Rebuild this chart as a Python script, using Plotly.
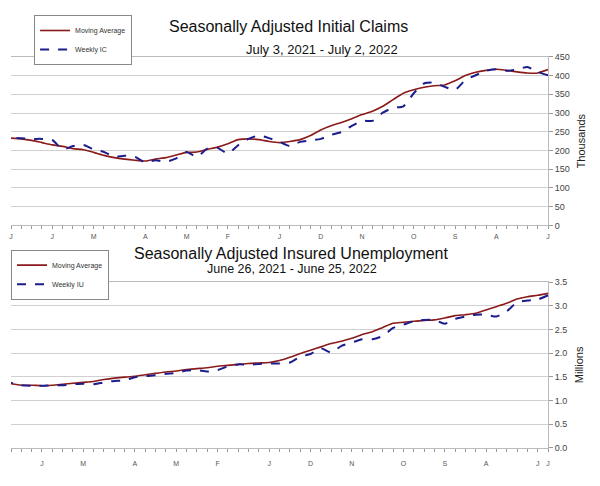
import plotly.graph_objects as go

# Week index 0 = first week of the period (drawn at the right edge, axis reversed)
weeks = list(range(53))

# Top chart: Seasonally Adjusted Initial Claims (thousands), July 3 2021 - July 2 2022
ic_moving_avg = [416, 407, 407, 410, 414, 417, 414, 409, 400, 386, 375, 373, 369, 362, 353,
                 336, 318, 305, 296, 285, 275, 266, 255, 240, 229, 224, 221, 224, 229, 231,
                 229, 218, 209, 203, 196, 195, 188, 181, 177, 172, 174, 177, 181, 187, 195,
                 202, 205, 211, 215, 221, 227, 231, 233]
ic_weekly = [401, 410, 423, 416, 413, 417, 413, 401, 388, 362, 370, 381, 379, 353, 318,
             314, 301, 279, 279, 266, 249, 242, 231, 227, 223, 212, 223, 233, 240, 231,
             214, 192, 207, 205, 183, 196, 179, 170, 174, 168, 183, 186, 183, 196, 203,
             215, 212, 203, 228, 231, 231, 233, 234]
ic_tick_idx = [0, 5, 9, 13, 18, 22, 26, 31, 35, 39, 44, 48, 52]
ic_tick_txt = ["J", "A", "S", "O", "N", "D", "J", "F", "M", "A", "M", "J", "J"]

# Bottom chart: Seasonally Adjusted Insured Unemployment (millions), June 26 2021 - June 25 2022
iu_moving_avg = [3.26, 3.22, 3.19, 3.14, 3.05, 2.98, 2.91, 2.84, 2.81, 2.79, 2.74, 2.70, 2.69,
                 2.67, 2.65, 2.63, 2.54, 2.45, 2.39, 2.31, 2.25, 2.20, 2.13, 2.06, 1.99, 1.91,
                 1.84, 1.80, 1.79, 1.78, 1.76, 1.74, 1.72, 1.69, 1.67, 1.65, 1.62, 1.60, 1.57,
                 1.54, 1.51, 1.49, 1.47, 1.44, 1.40, 1.38, 1.36, 1.34, 1.32, 1.31, 1.32, 1.32, 1.35]
iu_weekly = [3.22, 3.13, 3.11, 3.07, 2.88, 2.77, 2.81, 2.81, 2.77, 2.72, 2.62, 2.70, 2.70,
             2.67, 2.60, 2.53, 2.36, 2.29, 2.29, 2.22, 2.15, 2.01, 2.10, 1.98, 1.92, 1.80,
             1.78, 1.78, 1.77, 1.75, 1.76, 1.72, 1.64, 1.61, 1.64, 1.63, 1.58, 1.56, 1.53,
             1.51, 1.49, 1.42, 1.41, 1.38, 1.34, 1.35, 1.34, 1.32, 1.32, 1.31, 1.31, 1.32, 1.37]
iu_tick_idx = [0, 1, 6, 10, 14, 19, 23, 27, 32, 36, 40, 45, 49]
iu_tick_txt = ["J", "J", "A", "S", "O", "N", "D", "J", "F", "M", "A", "M", "J"]

MA_COLOR = "#8B1A1A"
WK_COLOR = "#1C1C8C"
GRID = "#D0D0D0"
FONT = "Liberation Sans, Arial, sans-serif"

fig = go.Figure()
fig.add_trace(go.Scatter(x=weeks, y=ic_moving_avg, mode="lines", name="Moving Average",
                         line=dict(color=MA_COLOR, width=1.6, shape="spline", smoothing=0.6),
                         xaxis="x", yaxis="y", legend="legend"))
fig.add_trace(go.Scatter(x=weeks, y=ic_weekly, mode="lines", name="Weekly IC",
                         line=dict(color=WK_COLOR, width=2, dash="dash", shape="spline", smoothing=0.6),
                         xaxis="x", yaxis="y", legend="legend"))
fig.add_trace(go.Scatter(x=weeks, y=iu_moving_avg, mode="lines", name="Moving Average",
                         line=dict(color=MA_COLOR, width=1.6, shape="spline", smoothing=0.6),
                         xaxis="x2", yaxis="y2", legend="legend2"))
fig.add_trace(go.Scatter(x=weeks, y=iu_weekly, mode="lines", name="Weekly IU",
                         line=dict(color=WK_COLOR, width=2, dash="dash", shape="spline", smoothing=0.6),
                         xaxis="x2", yaxis="y2", legend="legend2"))

def xaxis_cfg(idx, txt, anchor, standoff):
    labels = [txt[idx.index(w)] if w in idx else "" for w in weeks]
    return dict(range=[52, 0], tickvals=list(weeks), ticktext=labels, ticks="outside", ticklen=3,
                tickcolor="#999999", showgrid=False, zeroline=False, showline=True,
                linecolor="#BBBBBB", mirror=True, anchor=anchor, ticklabelstandoff=standoff,
                tickfont=dict(size=7, color="#555555", family=FONT))

def yaxis_cfg(rng, dtick, fmt, title, domain, anchor):
    return dict(range=rng, dtick=dtick, tickformat=fmt, side="right", domain=domain,
                showgrid=True, gridcolor=GRID, zeroline=False, showline=True,
                linecolor="#BBBBBB", ticks="outside", ticklen=4, tickcolor="#999999",
                anchor=anchor, tickfont=dict(size=9, color="#444444", family=FONT),
                title=dict(text=title, font=dict(size=11, color="#222222", family=FONT), standoff=8))

fig.update_layout(
    width=600, height=486,
    margin=dict(l=11, r=52, t=0, b=0),
    paper_bgcolor="white", plot_bgcolor="white",
    showlegend=True,
    xaxis=xaxis_cfg(ic_tick_idx, ic_tick_txt, "y", 1),
    yaxis=yaxis_cfg([0, 450], 50, "d", "Thousands", [0.537, 0.891], "x"),
    xaxis2=xaxis_cfg(iu_tick_idx, iu_tick_txt, "y2", 6),
    yaxis2=yaxis_cfg([0, 3.5], 0.5, ".1f", "Millions", [0.070, 0.418], "x2"),
    legend=dict(x=0.043, y=0.979, xanchor="left", yanchor="top", bordercolor="#888888",
                borderwidth=1, bgcolor="white", tracegroupgap=6,
                font=dict(size=7, color="#333333", family=FONT)),
    legend2=dict(x=0.0, y=0.486, xanchor="left", yanchor="top", bordercolor="#888888",
                 borderwidth=1, bgcolor="white",
                 font=dict(size=7, color="#333333", family=FONT)),
)

# titles placed at pixel positions, converted to paper coordinates
titles = [
    ("Seasonally Adjusted Initial Claims", 288, 22, 16),
    ("July 3, 2021 - July 2, 2022", 322, 45, 13),
    ("Seasonally Adjusted Insured Unemployment", 291, 254, 16),
    ("June 26, 2021 - June 25, 2022", 292, 270, 12.5),
]
anns = []
for text, px, py, size in titles:
    anns.append(dict(text=text, x=(px - 11) / 537, y=1 - py / 486, xref="paper", yref="paper",
                     xanchor="center", yanchor="middle", showarrow=False,
                     font=dict(size=size, color="#111111", family=FONT)))
fig.update_layout(annotations=anns)

fig.write_html("out.html")
